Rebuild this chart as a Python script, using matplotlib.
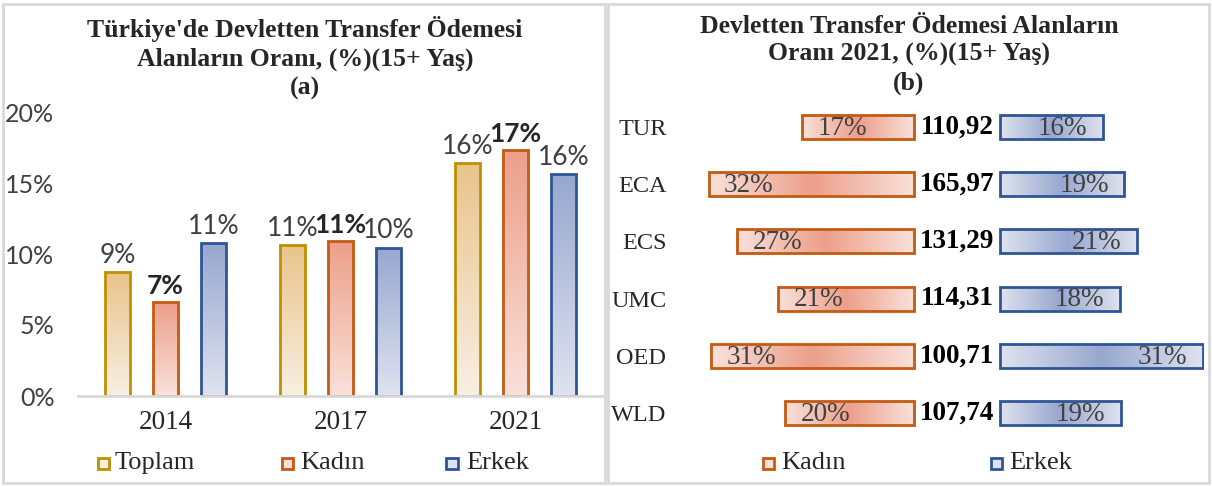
import numpy as np
import matplotlib
matplotlib.use("Agg")
import matplotlib.pyplot as plt
from matplotlib.colors import LinearSegmentedColormap
from matplotlib.patches import Rectangle

# ---- data: panel (a) ----
years = ["2014", "2017", "2021"]
toplam = [8.7, 10.65, 16.4]
kadin = [6.6, 10.9, 17.3]
erkek = [10.75, 10.45, 15.6]

# ---- data: panel (b) ----
countries = ["TUR", "ECA", "ECS", "UMC", "OED", "WLD"]
kadin_b = [17.2, 31.6, 27.2, 20.9, 31.2, 19.8]
erkek_b = [15.8, 19.1, 21.1, 18.4, 31.2, 18.6]
ratio_b = [110.92, 165.97, 131.29, 114.31, 100.71, 107.74]

W, H = 1212, 486
SERIF = "Liberation Serif"
SANS = "Lato"
TXT = "#262626"
GREY = "#404040"


def fx(px):
    return px / W


def fy(py):
    return 1 - py / H


def fill_gradient(ax, patch, cmap, img, extent):
    im = ax.imshow(img, cmap=cmap, extent=extent, origin="lower",
                   aspect="auto", interpolation="bicubic", zorder=2, vmin=0, vmax=1)
    im.set_clip_path(patch)


fig = plt.figure(figsize=(W / 100, H / 100), dpi=100)

# panel borders
for x0, x1 in [(3, 605), (608, 1209)]:
    fig.add_artist(Rectangle((fx(x0), fy(483)), fx(x1 - x0), (483 - 4) / H,
                             transform=fig.transFigure, fill=False,
                             edgecolor="#D9D9D9", lw=2))

# ================= panel (a) =================
styles = [
    ("Toplam", toplam, "#BF9000", "#F8EFE3", "#E9C48C"),
    ("Kadın", kadin, "#C55A11", "#F9E1DB", "#EC9F8A"),
    ("Erkek", erkek, "#2F5597", "#DFE3EF", "#97A7CF"),
]
ax = fig.add_axes([fx(78), fy(396), fx(603 - 78), (396 - 112) / H])
x = np.arange(len(years))
offsets = [-0.274, 0.0, 0.274]
bw = 0.143
vert = np.linspace(0, 1, 256).reshape(-1, 1)
for (name, vals, edge, light, dark), off in zip(styles, offsets):
    cmap = LinearSegmentedColormap.from_list(name, [light, dark])
    bars = ax.bar(x + off, np.array(vals) / 100, bw, facecolor="none",
                  edgecolor=edge, linewidth=2, zorder=3)
    for b, v in zip(bars, vals):
        fill_gradient(ax, b, cmap, vert,
                      [b.get_x(), b.get_x() + b.get_width(), 0, b.get_height()])
        ax.annotate(f"{v:.0f}%", (b.get_x() + b.get_width() / 2, b.get_height()),
                    xytext=(0, 3), textcoords="offset points", ha="center",
                    va="bottom", fontsize=19, family=SANS,
                    fontweight="bold" if name == "Kadın" else "normal",
                    color=TXT if name == "Kadın" else GREY)

ax.set_xlim(-0.5, 2.5)
ax.set_ylim(0, 0.20)
ax.set_yticks([0, 0.05, 0.10, 0.15, 0.20])
ax.set_yticklabels(["0%", "5%", "10%", "15%", "20%"], family=SANS,
                   fontsize=18, color=GREY)
ax.set_xticks(x)
ax.set_xticklabels(years, family=SERIF, fontsize=19.5, color=TXT)
ax.tick_params(axis="y", length=0, pad=17)
ax.tick_params(axis="x", length=0, pad=10)
for s in ["top", "right", "left"]:
    ax.spines[s].set_visible(False)
ax.spines["bottom"].set_color("#D9D9D9")
ax.spines["bottom"].set_linewidth(2)
ax.spines["bottom"].set_zorder(4)

fig.text(fx(305), fy(58), "Türkiye'de Devletten Transfer Ödemesi\nAlanların Oranı, (%)(15+ Yaş)\n(a)",
         ha="center", va="center", family=SERIF, fontweight="bold",
         fontsize=18.5, linespacing=1.3, color=TXT)

# legend (a)
for (name, vals, edge, light, dark), sx, tx in zip(styles, [103, 287, 452], [115, 300, 466]):
    fig.add_artist(Rectangle((fx(sx - 5.5), fy(469)), fx(11), 11 / H,
                             transform=fig.transFigure, facecolor=light,
                             edgecolor=edge, lw=2))
    fig.text(fx(tx), fy(463), name, ha="left", va="center", family=SERIF,
             fontsize=19, color=TXT)

# ================= panel (b) =================
scale = 6.5          # px per percent
cx = 957             # centre column px
xl, xr = -40, 38
axb = fig.add_axes([fx(cx + xl * scale), fy(441.6), fx((xr - xl) * scale),
                    (441.6 - 98.4) / H])
g = 6.6
bh = 0.42
y = np.arange(len(countries))
horiz = (1 - np.abs(np.linspace(-1, 1, 256))).reshape(1, -1)

kb = axb.barh(y, kadin_b, bh, left=-g - np.array(kadin_b), facecolor="none",
              edgecolor="#C55A11", lw=2, zorder=3)
eb = axb.barh(y, erkek_b, bh, left=g, facecolor="none",
              edgecolor="#2F5597", lw=2, zorder=3)
cmap_k = LinearSegmentedColormap.from_list("kb", ["#F9E1DB", "#EC9F8A"])
cmap_e = LinearSegmentedColormap.from_list("eb", ["#DFE3EF", "#97A7CF"])
for bars, cmap, vals, side in [(kb, cmap_k, kadin_b, "k"), (eb, cmap_e, erkek_b, "e")]:
    for b, v in zip(bars, vals):
        x0, y0 = b.get_x(), b.get_y()
        fill_gradient(axb, b, cmap, horiz,
                      [x0, x0 + b.get_width(), y0 + b.get_height(), y0])
        if side == "k":
            axb.annotate(f"{v:.0f}%", (x0, y0 + b.get_height() / 2), xytext=(11, -1),
                         textcoords="offset points", ha="left", va="center",
                         family=SERIF, fontsize=19.5, color=GREY, zorder=5)
        else:
            axb.annotate(f"{v:.0f}%", (x0 + b.get_width(), y0 + b.get_height() / 2),
                         xytext=(-11, -1), textcoords="offset points", ha="right",
                         va="center", family=SERIF, fontsize=19.5, color=GREY, zorder=5)

for yi, r in zip(y, ratio_b):
    axb.text(0, yi, f"{r:.2f}".replace(".", ","), ha="center", va="center",
             family=SERIF, fontweight="bold", fontsize=19.5, color="black")

axb.set_xlim(xl, xr)
axb.set_ylim(len(countries) - 0.5, -0.5)
axb.set_yticks(y)
axb.set_yticklabels(countries, family=SERIF, fontsize=17.5, color=TXT)
axb.set_xticks([])
axb.tick_params(axis="y", length=0, pad=22)
for s in axb.spines.values():
    s.set_visible(False)

fig.text(fx(909), fy(55), "Devletten Transfer Ödemesi Alanların\nOranı 2021, (%)(15+ Yaş)\n(b)",
         ha="center", va="center", family=SERIF, fontweight="bold",
         fontsize=18.5, linespacing=1.3, color=TXT)

for (name, edge, light), sx, tx in zip([("Kadın", "#C55A11", "#F9E1DB"),
                                        ("Erkek", "#2F5597", "#DFE3EF")],
                                       [768, 996], [781, 1009]):
    fig.add_artist(Rectangle((fx(sx - 5.5), fy(469)), fx(11), 11 / H,
                             transform=fig.transFigure, facecolor=light,
                             edgecolor=edge, lw=2))
    fig.text(fx(tx), fy(463), name, ha="left", va="center", family=SERIF,
             fontsize=19, color=TXT)

fig.savefig("out.png", dpi=100)
